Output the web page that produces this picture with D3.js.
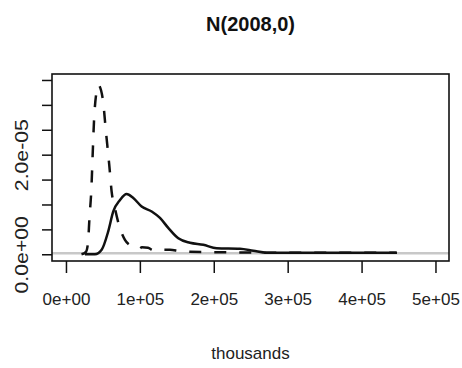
<!DOCTYPE html>
<html>
<head>
<meta charset="utf-8">
<script src="https://cdn.jsdelivr.net/npm/d3@7"></script>
<style>
  html, body { margin: 0; padding: 0; background: #fff; }
  svg { display: block; font-family: "Liberation Sans", Arial, sans-serif; }
</style>
</head>
<body>
<svg id="chart" width="462" height="368"></svg>
<script>
// Kernel density estimates (x in thousands, y = density)
const solidX = [25700, 39200, 48300, 57200, 64000, 73100, 82100, 91100, 102400, 116000,
                127200, 138400, 152000, 167800, 185800, 203900, 235500, 253500, 271600,
                316600, 447000];
const solidY = [0, 0.0, 0.09e-5, 0.46e-5, 0.86e-5, 1.09e-5, 1.21e-5, 1.13e-5, 0.96e-5, 0.86e-5,
                0.73e-5, 0.53e-5, 0.32e-5, 0.23e-5, 0.19e-5, 0.12e-5, 0.11e-5, 0.07e-5, 0.03e-5,
                0.03e-5, 0.03e-5];

const dashedX = [21000, 27100, 29800, 31800, 34500, 36100, 37900, 41300, 43700, 49700,
                 54100, 58600, 61800, 66300, 73100, 79800, 88000, 94700, 98800, 102800,
                 111000, 117700, 124500, 129900, 140700, 154300, 167800, 208400, 316700, 447900];
const dashedY = [0, 0.05e-5, 0.23e-5, 0.73e-5, 1.35e-5, 1.99e-5, 2.66e-5, 3.26e-5, 3.40e-5, 3.13e-5,
                 2.46e-5, 1.79e-5, 1.26e-5, 0.92e-5, 0.52e-5, 0.29e-5, 0.17e-5, 0.12e-5, 0.11e-5, 0.14e-5,
                 0.13e-5, 0.08e-5, 0.07e-5, 0.09e-5, 0.09e-5, 0.06e-5, 0.05e-5, 0.04e-5, 0.03e-5, 0.03e-5];

const xTicks = [0, 100000, 200000, 300000, 400000, 500000];
const xTickLabels = ["0e+00", "1e+05", "2e+05", "3e+05", "4e+05", "5e+05"];
const yTicks = [0, 0.5e-5, 1e-5, 1.5e-5, 2e-5, 2.5e-5, 3e-5, 3.5e-5];
const yTickLabels = {0: "0.0e+00", 4: "2.0e-05"};

const titleText = "N(2008,0)";
const xTitle = "thousands";

const box = {left: 52, right: 449, top: 74, bottom: 261};

const svg = d3.select("#chart");

const x = d3.scaleLinear().domain([-18900, 518300]).range([box.left, box.right]);
const y = d3.scaleLinear().domain([-1.35e-6, 3.62e-5]).range([box.bottom, box.top]);

// zero reference line
svg.append("line")
  .attr("x1", box.left).attr("x2", box.right)
  .attr("y1", y(0.02e-5)).attr("y2", y(0.02e-5))
  .attr("stroke", "#c8c8c8").attr("stroke-width", 2.5);

const line = d3.line()
  .x(d => x(d[0])).y(d => y(d[1]))
  .curve(d3.curveMonotoneX);

svg.append("path")
  .datum(solidX.map((v, i) => [v, solidY[i]]))
  .attr("d", line)
  .attr("fill", "none").attr("stroke", "#111").attr("stroke-width", 2.5)
  .attr("stroke-linejoin", "round");

svg.append("path")
  .datum(dashedX.map((v, i) => [v, dashedY[i]]))
  .attr("d", line)
  .attr("fill", "none").attr("stroke", "#111").attr("stroke-width", 2.5)
  .attr("stroke-dasharray", "12,13");

// plot frame
svg.append("rect")
  .attr("x", box.left).attr("y", box.top)
  .attr("width", box.right - box.left).attr("height", box.bottom - box.top)
  .attr("fill", "none").attr("stroke", "#111").attr("stroke-width", 1.6);

// x axis
const xAxis = d3.axisBottom(x)
  .tickValues(xTicks)
  .tickSize(12)
  .tickFormat((d, i) => xTickLabels[i]);
const gx = svg.append("g").attr("transform", `translate(0,${box.bottom})`).call(xAxis);
gx.select(".domain").remove();
gx.selectAll(".tick line").attr("stroke", "#111").attr("stroke-width", 1.5);
gx.selectAll(".tick text")
  .attr("y", 0).attr("dy", 0)
  .attr("transform", "translate(0,44)")
  .attr("font-size", 17).attr("fill", "#222")
  .attr("font-family", "'Liberation Sans', Arial, sans-serif");

// y axis
const yAxis = d3.axisLeft(y)
  .tickValues(yTicks)
  .tickSize(10)
  .tickFormat((d, i) => yTickLabels[i] || "");
const gy = svg.append("g").attr("transform", `translate(${box.left},0)`).call(yAxis);
gy.select(".domain").remove();
gy.selectAll(".tick line").attr("stroke", "#111").attr("stroke-width", 1.5);
gy.selectAll(".tick text")
  .attr("x", 0).attr("dy", 0)
  .attr("text-anchor", "middle")
  .attr("transform", "translate(-24,0) scale(1,1.18) rotate(-90)")
  .attr("font-size", 18).attr("fill", "#222")
  .attr("font-family", "'Liberation Sans', Arial, sans-serif");

// titles
svg.append("text")
  .attr("x", (box.left + box.right) / 2).attr("y", 31)
  .attr("text-anchor", "middle")
  .attr("font-size", 20).attr("font-weight", "bold").attr("fill", "#111")
  .text(titleText);

svg.append("text")
  .attr("x", (box.left + box.right) / 2).attr("y", 359)
  .attr("text-anchor", "middle")
  .attr("font-size", 17).attr("fill", "#222")
  .text(xTitle);
</script>
</body>
</html>
